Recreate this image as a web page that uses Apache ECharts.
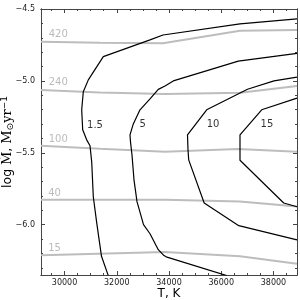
<!DOCTYPE html>
<html>
<head>
<meta charset="utf-8">
<script src="https://cdn.jsdelivr.net/npm/echarts@6/dist/echarts.min.js"></script>
<style>html,body{margin:0;padding:0;background:#fff}#c{width:300px;height:300px}</style>
</head>
<body>
<div id="c"></div>
<script>
// ---- axis ticks ----
const xMajorTicks = [30000, 32000, 34000, 36000, 38000];
const xMinorTicks = [29500, 30500, 31000, 31500, 32500, 33000, 33500, 34500, 35000, 35500, 36500, 37000, 37500, 38500];
const yMajorTicks = [-6.0, -5.5, -5.0, -4.5];
const yMinorTicks = [-6.3, -6.2, -6.1, -5.9, -5.8, -5.7, -5.6, -5.4, -5.3, -5.2, -5.1, -4.9, -4.8, -4.7, -4.6];

// ---- black contours [T, logMdot] ----
const contour1_5 = [[38900,-4.569],[36718,-4.604],[33770,-4.681],[33273,-4.715],[31485,-4.831],[30911,-4.993],[30719,-5.076],[30658,-5.201],[30696,-5.340],[30849,-5.410],[30976,-5.451],[31041,-5.563],[31102,-5.806],[31232,-5.986],[31416,-6.220],[31676,-6.354]];
const contour5 = [[38900,-4.808],[36653,-4.863],[34164,-5.000],[33847,-5.035],[33590,-5.059],[33273,-5.125],[32890,-5.201],[32633,-5.299],[32507,-5.375],[32526,-5.424],[32583,-5.514],[32660,-5.688],[32775,-5.840],[33024,-6.000],[33273,-6.063],[33590,-6.174],[33808,-6.215],[33923,-6.226],[36209,-6.354]];
const contour10 = [[38900,-4.974],[38019,-5.000],[37005,-5.058],[35443,-5.201],[34708,-5.375],[34727,-5.479],[34754,-5.549],[35347,-5.849],[36672,-6.007],[38900,-6.106]];
const contour15 = [[38900,-5.120],[37548,-5.201],[36718,-5.375],[36718,-5.552],[38391,-5.849],[38900,-5.875]];
const blackLevels = ['1.5', '5', '10', '15'];
const blackLabelPos = [[31167,-5.312],[32993,-5.306],[35684,-5.306],[37751,-5.306]];

// ---- grey contours [T, logMdot] ----
const grey420 = [[29100,-4.727],[31359,-4.734],[33770,-4.738],[36718,-4.651],[38900,-4.646]];
const grey240 = [[29100,-5.063],[31359,-5.080],[33847,-5.092],[36718,-5.083],[38900,-5.035]];
const grey100 = [[29100,-5.451],[31359,-5.472],[33847,-5.493],[36642,-5.474],[38900,-5.493]];
const grey40 = [[29100,-5.826],[33847,-5.826],[36718,-5.838],[38900,-5.873]];
const grey15 = [[29100,-6.213],[33847,-6.190],[36718,-6.220],[38900,-6.271]];
const greyLevels = ['420', '240', '100', '40', '15'];
const greyLabelPos = [[29762,-4.677],[29762,-5.014],[29762,-5.410],[29617,-5.783],[29617,-6.163]];

const X_MIN = 29100, X_MAX = 38900, Y_MIN = -6.35, Y_MAX = -4.5;
const lineCol = '#444';
const fmtY = v => Number(v).toFixed(1).replace('-', '\u2212');
const fmtX = v => String(Math.round(v));

function xAx(pos, ticks, len, labels, extra) {
  return Object.assign({
    type: 'value', position: pos, min: X_MIN, max: X_MAX,
    axisLine: { show: true, onZero: false, lineStyle: { color: lineCol, width: 1 } },
    axisTick: { show: true, inside: true, length: len, customValues: ticks, lineStyle: { color: lineCol, width: 1 } },
    axisLabel: labels ? { show: true, customValues: ticks, fontSize: 8, color: '#222', margin: 4, fontFamily: 'DejaVu Sans', formatter: fmtX } : { show: false },
    splitLine: { show: false }
  }, extra || {});
}
function yAx(pos, ticks, len, labels, extra) {
  return Object.assign({
    type: 'value', position: pos, min: Y_MIN, max: Y_MAX,
    axisLine: { show: true, onZero: false, lineStyle: { color: lineCol, width: 1 } },
    axisTick: { show: true, inside: true, length: len, customValues: ticks, lineStyle: { color: lineCol, width: 1 } },
    axisLabel: labels ? { show: true, customValues: ticks, fontSize: 8, color: '#222', margin: 6, fontFamily: 'DejaVu Sans', formatter: fmtY } : { show: false },
    splitLine: { show: false }
  }, extra || {});
}

const xAxes = [
  xAx('bottom', xMajorTicks, 4, true, {
    name: 'T, K', nameLocation: 'middle', nameGap: 12.5, nameMoveOverlap: false,
    nameTextStyle: { fontSize: 12, color: '#000', fontFamily: 'DejaVu Sans' }
  }),
  xAx('bottom', xMinorTicks, 2, false),
  xAx('top', xMajorTicks, 4, false),
  xAx('top', xMinorTicks, 2, false)
];
const yAxes = [
  yAx('left', yMajorTicks, 4, true, {
    name: '{a|log }{b|\u1E40}{a|, }{b|M}{s|\u2299}{b|yr}{p|\u22121}',
    nameLocation: 'middle', nameGap: 26, nameRotate: 90, nameMoveOverlap: false,
    nameTextStyle: {
      color: '#000',
      rich: {
        a: { fontSize: 12.5, fontFamily: 'DejaVu Sans', color: '#000' },
        b: { fontSize: 13, fontFamily: 'DejaVu Serif', color: '#000' },
        s: { fontSize: 9, fontFamily: 'DejaVu Sans', color: '#000', verticalAlign: 'bottom', padding: [6, 0, 0, 0] },
        p: { fontSize: 9, fontFamily: 'DejaVu Sans', color: '#000', verticalAlign: 'top', padding: [0, 0, 6, 0] }
      }
    }
  }),
  yAx('left', yMinorTicks, 2, false),
  yAx('right', yMajorTicks, 4, false),
  yAx('right', yMinorTicks, 2, false)
];

const series = [];
[grey420, grey240, grey100, grey40, grey15].forEach(d => series.push({
  type: 'line', data: d, symbol: 'none', silent: true, z: 2,
  lineStyle: { color: '#bdbdbd', width: 2 }
}));
[contour1_5, contour5, contour10, contour15].forEach(d => series.push({
  type: 'line', data: d, symbol: 'none', silent: true, z: 3,
  lineStyle: { color: '#000', width: 1.2 }
}));
series.push({
  type: 'scatter', silent: true, symbolSize: 1, itemStyle: { color: 'rgba(0,0,0,0)' }, z: 4,
  data: greyLevels.map((t, i) => ({ value: greyLabelPos[i], name: t })),
  label: { show: true, position: 'inside', formatter: p => p.name, fontSize: 10, color: '#aaaaaa', fontFamily: 'DejaVu Sans' }
});
series.push({
  type: 'scatter', silent: true, symbolSize: 1, itemStyle: { color: 'rgba(0,0,0,0)' }, z: 4,
  data: blackLevels.map((t, i) => ({ value: blackLabelPos[i], name: t })),
  label: { show: true, position: 'inside', formatter: p => p.name, fontSize: 10, color: '#000', fontFamily: 'DejaVu Sans' }
});

const chart = echarts.init(document.getElementById('c'), null, { renderer: 'canvas' });
chart.setOption({
  animation: false,
  backgroundColor: '#fff',
  grid: { left: 41, right: 3, top: 9, bottom: 25, containLabel: false, outerBoundsMode: 'none' },
  xAxis: xAxes,
  yAxis: yAxes,
  series: series
});
</script>
</body>
</html>
